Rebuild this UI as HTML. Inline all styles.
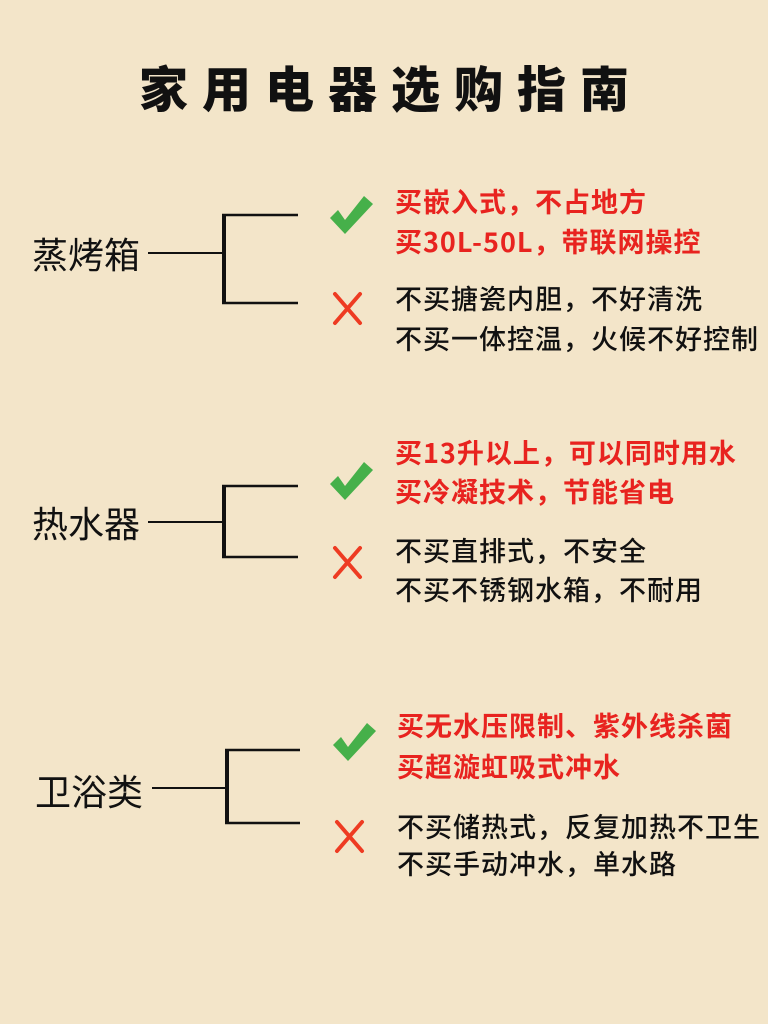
<!DOCTYPE html>
<html><head><meta charset="utf-8"><style>
body{margin:0;width:768px;height:1024px;background:#f3e5c9;position:relative;overflow:hidden;font-family:"Noto Sans CJK SC","Liberation Sans",sans-serif}
.t{position:absolute;white-space:nowrap;line-height:1}
.title{left:0;width:768px;text-align:center;top:62px;font-size:49px;font-weight:900;letter-spacing:14px;text-indent:14px;color:#111}
.lab{font-size:36px;color:#111}
.r{font-size:27px;color:#e8231f;font-weight:700;letter-spacing:1px}
.b{font-size:27px;color:#111;font-weight:500;letter-spacing:1px}
svg{position:absolute;left:0;top:0}
</style></head><body>
<div class="t title">家用电器选购指南</div>
<svg width="768" height="1024">
<g stroke="#111" fill="none">
<line x1="148" y1="253" x2="222" y2="253" stroke-width="2"/>
<line x1="224" y1="214" x2="224" y2="304" stroke-width="4"/>
<line x1="222" y1="215" x2="298" y2="215" stroke-width="2.5"/>
<line x1="222" y1="303" x2="298" y2="303" stroke-width="2.5"/>

<line x1="148" y1="522" x2="222" y2="522" stroke-width="2"/>
<line x1="224" y1="485" x2="224" y2="558" stroke-width="4"/>
<line x1="222" y1="486" x2="298" y2="486" stroke-width="2.5"/>
<line x1="222" y1="557" x2="298" y2="557" stroke-width="2.5"/>

<line x1="152" y1="788" x2="225" y2="788" stroke-width="2"/>
<line x1="227" y1="749" x2="227" y2="824" stroke-width="4"/>
<line x1="225" y1="750" x2="300" y2="750" stroke-width="2.5"/>
<line x1="225" y1="823" x2="300" y2="823" stroke-width="2.5"/>
</g>
<g fill="#46b04a">
<path d="M330 218 L338 210 L345 220 L364 196 L373 204 L345 234 Z"/>
<path d="M330 484 L338 476 L345 486 L364 462 L373 470 L345 500 Z"/>
<path d="M333 745 L341 737 L348 747 L367 723 L376 731 L348 761 Z"/>
</g>
<g stroke="#ee3b22" stroke-width="4" stroke-linecap="round">
<line x1="335" y1="294" x2="360" y2="323"/><line x1="360" y1="294" x2="335" y2="323"/>
<line x1="335" y1="548" x2="360" y2="577"/><line x1="360" y1="548" x2="335" y2="577"/>
<line x1="337" y1="822" x2="362" y2="851"/><line x1="362" y1="822" x2="337" y2="851"/>
</g>
</svg>
<div class="t lab" style="left:32px;top:235px">蒸烤箱</div>
<div class="t lab" style="left:32px;top:504px">热水器</div>
<div class="t lab" style="left:35px;top:772px">卫浴类</div>

<div class="t r" style="left:395px;top:187px">买嵌入式，不占地方</div>
<div class="t r" style="left:395px;top:227px">买30L-50L，带联网操控</div>
<div class="t b" style="left:395px;top:284px">不买搪瓷内胆，不好清洗</div>
<div class="t b" style="left:395px;top:324px">不买一体控温，火候不好控制</div>

<div class="t r" style="left:395px;top:438px">买13升以上，可以同时用水</div>
<div class="t r" style="left:395px;top:477px">买冷凝技术，节能省电</div>
<div class="t b" style="left:395px;top:536px">不买直排式，不安全</div>
<div class="t b" style="left:395px;top:575px">不买不锈钢水箱，不耐用</div>

<div class="t r" style="left:397px;top:711px">买无水压限制、紫外线杀菌</div>
<div class="t r" style="left:397px;top:752px">买超漩虹吸式冲水</div>
<div class="t b" style="left:397px;top:812px">不买储热式，反复加热不卫生</div>
<div class="t b" style="left:397px;top:849px">不买手动冲水，单水路</div>
</body></html>
